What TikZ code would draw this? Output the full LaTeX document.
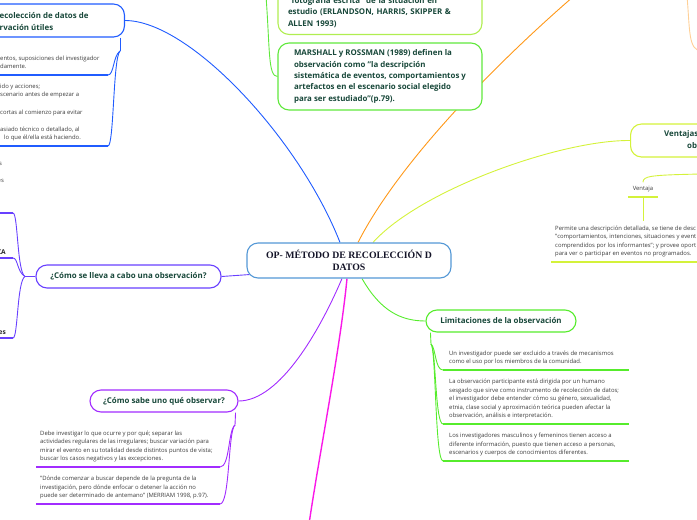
\documentclass[tikz,border=0pt]{standalone}
\usepackage{fontspec}
\setmainfont{Open Sans}
\newfontfamily\coreserif{Liberation Serif}
\usetikzlibrary{positioning,calc,backgrounds}

\definecolor{coreblue}{RGB}{84,152,214}
\definecolor{obsblue}{RGB}{32,92,255}
\definecolor{cmoviolet}{RGB}{104,64,255}
\definecolor{sabpurple}{RGB}{162,44,255}
\definecolor{magline}{RGB}{250,24,232}
\definecolor{limgreen}{RGB}{86,236,44}
\definecolor{ventyellow}{RGB}{212,242,58}
\definecolor{orangeline}{RGB}{255,152,24}
\definecolor{paleorange}{RGB}{255,208,150}
\definecolor{fotolime}{RGB}{176,238,80}
\definecolor{margreen}{RGB}{96,232,60}
\definecolor{titlegreen}{RGB}{24,72,58}
\definecolor{notegray}{RGB}{60,60,60}

\newcommand\topicfont{\fontsize{7.9}{11.3}\selectfont\bfseries}
\newcommand\notefont{\fontsize{5.9}{8.6}\selectfont}

\tikzset{
  topic/.style={draw, line width=1.1pt, rounded corners=11pt, fill=white,
    font=\topicfont, text=titlegreen, align=center, inner sep=0pt},
  topictext/.style={font=\topicfont, text=titlegreen, align=left, inner sep=0pt},
  note/.style={font=\notefont, text=notegray, align=left, anchor=south west,
    inner xsep=5pt, inner ysep=4pt, text depth=2pt},
  stub/.style={font=\fontsize{6.6}{8}\selectfont\bfseries, text=black!85,
    anchor=south east, inner xsep=7pt, inner ysep=1.5pt, text depth=1.5pt},
  link/.style={line width=0.9pt},
  underl/.style={line width=1.4pt},
}

\begin{document}
\begin{tikzpicture}[x=1pt, y=-1pt]
\useasboundingbox (0,0) rectangle (697,520);

% central topic
\node[topic, draw=coreblue, minimum width=204pt, minimum height=35pt,
  font=\coreserif\fontsize{9.8}{11.5}\selectfont\bfseries, text={rgb,255:red,20;green,20;blue,40}]
  (op) at (349,260.5) {OP- MÉTODO DE RECOLECCIÓN D\\DATOS};

% upper left
\node[topic, draw=obsblue, minimum width=240pt, minimum height=33pt, anchor=east] (obs) at (125,20.5) {};
\node[topictext, anchor=west] (obstext) at (-0.5,21.5) {ecolección de datos de\\rvación útiles};
\node[note, inner xsep=4pt] (ob1) at (-4,75) {entos, suposiciones del investigador\\damente.};
\node[note, inner xsep=4pt] (ob2) at (-4,146) {ido y acciones;\\scenario antes de empezar a\\ \mbox{}\\cortas al comienzo para evitar\\ \mbox{}\\asiado técnico o detallado, al\\\hspace*{4pt}lo que él/ella está haciendo.};
\node[font=\notefont, text=notegray, anchor=west, inner sep=0pt] (fr1) at (-1,164) {s};
\node[font=\notefont, text=notegray, anchor=west, inner sep=0pt] (fr2) at (-2.5,181) {es};

% left
\node[topic, draw=cmoviolet, minimum width=185pt, minimum height=23pt] (cmo) at (128.5,276.5) {¿Cómo se lleva a cabo una observación?};
\node[stub] (cm1) at (13,213) {};
\node[stub] (cm2) at (13,258) {CA};
\node[stub] (cm3) at (13,338) {es};

% lower left
\node[topic, draw=sabpurple, minimum width=148pt, minimum height=22pt] (saber) at (164,401) {¿Cómo sabe uno qué observar?};
\node[note, inner xsep=4pt] (pu1) at (36,467) {Debe investigar lo que ocurre y por qué; separar las\\actividades regulares de las irregulares; buscar variación para\\mirar el evento en su totalidad desde distintos puntos de vista;\\buscar los casos negativos y las excepciones.};
\node[note, inner xsep=4pt] (pu2) at (36,504) {"Dónde comenzar a buscar depende de la pregunta de la\\investigación, pero dónde enfocar o detener la acción no\\puede ser determinado de antemano" (MERRIAM 1998, p.97).};

% lower right
\node[topic, draw=limgreen, minimum width=150pt, minimum height=22pt] (lim) at (501,321) {Limitaciones de la observación};
\node[note, inner xsep=6pt] (li1) at (443,370) {Un investigador puede ser excluido a través de mecanismos\\como el uso por los miembros de la comunidad.};
\node[note, inner xsep=6pt] (li2) at (443,424) {La observación participante está dirigida por un humano\\sesgado que sirve como instrumento de recolección de datos;\\el investigador debe entender cómo su género, sexualidad,\\etnia, clase social y aproximación teórica pueden afectar la\\observación, análisis e interpretación.};
\node[note, inner xsep=6pt] (li3) at (443,461) {Los investigadores masculinos y femeninos tienen acceso a\\diferente información, puesto que tienen acceso a personas,\\escenarios y cuerpos de conocimientos diferentes.};

% right
\node[topic, draw=ventyellow, minimum width=200pt, minimum height=33pt, anchor=west] (ven) at (630,140.5) {};
\node[topictext, anchor=north west] (ventext) at (664,130.5) {Ventajas\\\hspace*{23pt}ob};
\node[note, anchor=south, inner xsep=2pt, minimum width=30pt] (vta) at (643,197) {Ventaja};
\node[note, inner xsep=4pt] (per) at (551,262) {Permite una descripción detallada, se tiene de desc\\"comportamientos, intenciones, situaciones y event\\comprendidos por los informantes"; y provee oport\\para ver o participar en eventos no programados.};

% top
\node[topic, draw=fotolime, minimum width=204pt, text width=184pt, align=left, anchor=south, inner ysep=7pt]
  (foto) at (380,35) {\mbox{}\\"fotografía escrita" de la situación en\\estudio (ERLANDSON, HARRIS, SKIPPER \&\\ALLEN 1993)};
\node[topic, draw=margreen, minimum width=204pt, minimum height=67pt, align=left] (mar) at (380,76.5)
  {MARSHALL y ROSSMAN (1989) definen la\\observación como "la descripción\\sistemática de eventos, comportamientos y\\artefactos en el escenario social elegido\\para ser estudiado"(p.79).};

\coordinate (orangeend) at (574,-4);
\coordinate (magend) at (309,524);
\coordinate (greenstart) at (266,-4);
\coordinate (ventstart) at (702,174);
\coordinate (palestart) at (687,-4);
\coordinate (paleend) at (702,51);
\coordinate (obsfork) at (120,51);
\coordinate (cmofork) at (25,276.5);
\coordinate (sabfork) at (235,425);
\coordinate (limfork) at (431,344);

\begin{scope}[on background layer]
\draw[link, draw=obsblue] ($(op.north)+(-9,0)$) .. controls (300,140) and (190,20.5) .. (obs.east);
\draw[link, draw=orangeline] ($(op.north)+(9,0)$) .. controls (400,160) and (500,60) .. (orangeend);
\draw[link, draw=ventyellow] ($(op.north)+(24,0)$) .. controls (420,190) and (560,140) .. (ven.west);
\draw[link, draw=sabpurple] ($(op.south)+(-7,0)$) .. controls (320,330) and (280,401) .. (saber.east);
\draw[link, draw=magline, line width=1.4pt] ($(op.south)+(-2,0)$) .. controls (340,350) and (320,450) .. (magend);
\draw[link, draw=limgreen] ($(op.south)+(13,0)$) .. controls (380,310) and (400,321) .. (lim.west);
\draw[link, draw=cmoviolet] (cmo.east) -- ($(op.south west)+(3,-4)$);
\draw[link, draw=margreen] (greenstart) .. controls (270,50) and (268,76.5) .. (mar.west);
\draw[link, draw=paleorange] (palestart) .. controls (690,30) and (688,51) .. (paleend);
\end{scope}

% branches to notes
\draw[link, draw=obsblue] ($(obs.south east)+(-5,0)$) -- (obsfork);
\draw[link, draw=obsblue] (obsfork) .. controls (113,56) and (114,75) .. (ob1.south west -| 108,0);
\draw[link, draw=obsblue] (obsfork) .. controls (113,58) and (114,146) .. (ob2.south west -| 108,0);
\draw[underl, draw=obsblue] (ob1.south west) -- ++(112,0);
\draw[underl, draw=obsblue] (ob2.south west) -- ++(112,0);

\draw[link, draw=cmoviolet] (cmo.west) -- (cmofork);
\draw[link, draw=cmoviolet] (cmofork) .. controls (17,272) and (18,213) .. (cm1.south east);
\draw[link, draw=cmoviolet] (cmofork) .. controls (17,272) and (18,258) .. (cm2.south east);
\draw[link, draw=cmoviolet] (cmofork) .. controls (17,281) and (18,338) .. (cm3.south east);
\foreach \n in {cm1,cm2,cm3}
  \draw[underl, draw=cmoviolet] (\n.south east) -- ++(-40,0);

\draw[link, draw=sabpurple] ($(saber.south east)+(-3,0)$) -- (sabfork);
\draw[link, draw=sabpurple] (sabfork) .. controls (228,430) and (230,467) .. (pu1.south west -| 220,0);
\draw[link, draw=sabpurple] (sabfork) .. controls (228,430) and (230,504) .. (pu2.south west -| 220,0);
\foreach \n in {pu1,pu2}
  \draw[underl, draw=sabpurple] (\n.south west) -- ++(184,0);

\draw[link, draw=limgreen] ($(lim.south west)+(5,0)$) -- (limfork);
\foreach \n in {li1,li2,li3} {
  \draw[link, draw=limgreen] (limfork) .. controls +(5,4) and +(-8,0) .. (\n.south west);
  \draw[underl, draw=limgreen] (\n.south west) -- ++(186,0);
}

\draw[link, draw=ventyellow] (ventstart) .. controls (650,175) and (643,176) .. (vta.north);
\draw[link, draw=ventyellow] (vta.south) -- (vta.south |- per.north);
\draw[underl, draw=ventyellow] (vta.south west) -- (vta.south east);
\draw[underl, draw=ventyellow] (per.south west) -- ++(160,0);
\end{tikzpicture}
\end{document}
